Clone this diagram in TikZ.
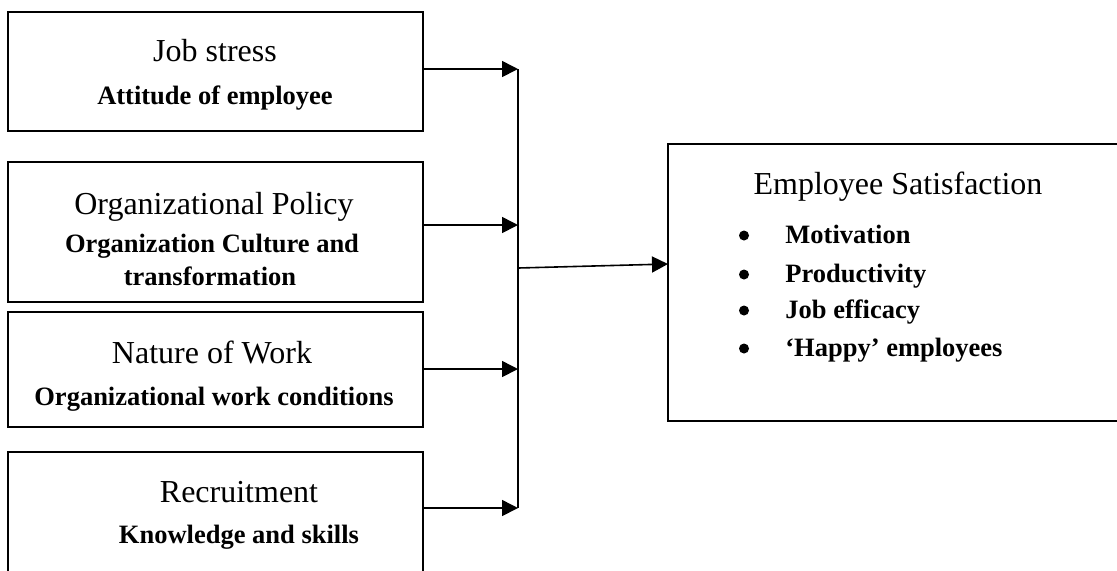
\documentclass[tikz,border=0pt]{standalone}
\usepackage{fontspec}
\setmainfont{Liberation Serif}
\usetikzlibrary{arrows.meta}

\tikzset{
  factor/.style={draw, line width=1pt, inner sep=0pt},
  head/.style={anchor=base, inner sep=0pt, font=\fontsize{16}{19}\selectfont},
  sub/.style={anchor=base, inner sep=0pt, font=\fontsize{13.25}{16}\selectfont\bfseries},
  dot/.style={circle, fill, inner sep=0pt, minimum size=5pt},
  link/.style={line width=0.8pt, -{Triangle[length=8pt, width=8pt]}},
}

\begin{document}
\begin{tikzpicture}[x=0.5pt, y=-0.5pt]
  \useasboundingbox (0, 0) rectangle (1117, 570);
  \clip (0, 0) rectangle (1117, 570);

  % factor boxes
  \node[factor, minimum width=207.5pt, minimum height=59.5pt] (stress) at (215.5, 71.5) {};
  \node[factor, minimum width=207.5pt, minimum height=70pt] (policy) at (215.5, 232) {};
  \node[factor, minimum width=207.5pt, minimum height=57.5pt] (work) at (215.5, 369.5) {};
  \node[factor, minimum width=207.5pt, minimum height=74pt] (recruit) at (215.5, 526) {};

  \node[head] (stressT) at (215, 61) {Job stress};
  \node[sub] (stressS) at (215, 104) {Attitude of employee};
  \node[head] (policyT) at (214, 214) {Organizational Policy};
  \node[sub] (policyS) at (212, 252) {Organization Culture and};
  \node[sub] (policyS2) at (210, 285) {transformation};
  \node[head] (workT) at (212, 363) {Nature of Work};
  \node[sub] (workS) at (214, 405) {Organizational work conditions};
  \node[head] (recruitT) at (239, 502) {Recruitment};
  \node[sub] (recruitS) at (239, 543) {Knowledge and skills};

  % outcome box
  \node[factor, minimum width=236pt, minimum height=138.5pt] (sat) at (904, 282.5) {};
  \node[head] (satT) at (898, 194) {Employee Satisfaction};
  \foreach \i/\y/\txt in {1/243/Motivation, 2/282/Productivity, 3/318/Job efficacy, 4/356/‘Happy’ employees} {
    \node[dot] (dot\i) at (744, \y - 7.5) {};
    \node[sub, anchor=base west] (item\i) at (785, \y) {\txt};
  }

  % connectors
  \foreach \b/\y in {stress/69, policy/225, work/369, recruit/508} {
    \coordinate (j\b) at (518, \y);
    \draw[link] (\b.east |- j\b) -- (j\b);
  }
  \draw[line width=0.8pt] (jstress) -- (jrecruit);

  \coordinate (jmid) at (518, 268);
  \coordinate (jtip) at (668, 264);
  \draw[link] (jmid) -- (jtip);
\end{tikzpicture}
\end{document}
